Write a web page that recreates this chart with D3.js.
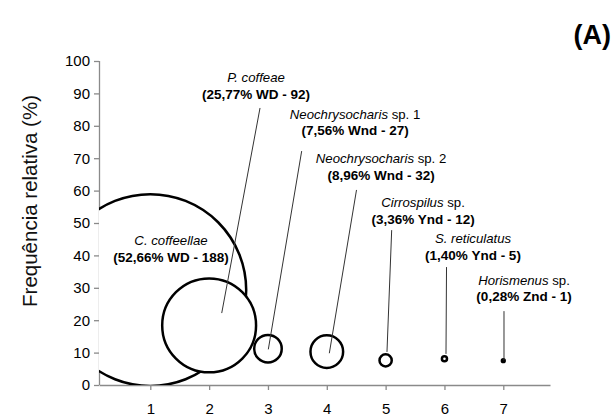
<!DOCTYPE html>
<html>
<head>
<meta charset="utf-8">
<script src="https://cdn.jsdelivr.net/npm/d3@7"></script>
<style>
  body { margin: 0; background: #fff; }
  svg { display: block; }
  text { font-family: Arial, "Liberation Sans", sans-serif; }
</style>
</head>
<body>
<div id="chart"></div>
<script>
// species (bubble order along x)
var species = [
  { it: "C. coffeellae", rest: "" },
  { it: "P. coffeae", rest: "" },
  { it: "Neochrysocharis", rest: " sp. 1" },
  { it: "Neochrysocharis", rest: " sp. 2" },
  { it: "Cirrospilus", rest: " sp." },
  { it: "S. reticulatus", rest: "" },
  { it: "Horismenus", rest: " sp." }
];
var xValues = [1, 2, 3, 4, 5, 6, 7];
var yValues = [29.3, 18.4, 11.2, 10.3, 7.6, 8.1, 7.5];   // frequência relativa (%)
var counts = [188, 92, 27, 32, 12, 5, 1];                 // bubble size
var percents = ["52,66", "25,77", "7,56", "8,96", "3,36", "1,40", "0,28"];
var codes = ["WD", "WD", "Wnd", "Wnd", "Ynd", "Ynd", "Znd"];
var yTicks = [0, 10, 20, 30, 40, 50, 60, 70, 80, 90, 100];
var xTicks = [1, 2, 3, 4, 5, 6, 7];

// label anchors (data units): centre x, baseline of first line
var labelX = [1.352, 2.797, 4.480, 4.922, 5.636, 6.485, 7.352];
var labelY = [43.2, 93.5, 82.1, 68.5, 54.9, 43.8, 30.9];
// leader lines (data units), null = no line
var leaders = [
  null,
  [2.865, 85.5, 2.214, 22.2],
  [3.573, 72.2, 3.006, 11.0],
  [4.505, 60.2, 4.043, 9.8],
  [5.103, 47.8, 5.023, 10.2],
  [6.035, 36.4, 6.026, 9.6],
  [7.012, 22.8, 7.012, 7.7]
];

var w = 613, h = 418;
var pLeft = 99, pRight = 550, pTop = 61, pBottom = 385;
var font = "Arial, 'Liberation Sans', sans-serif";

var svg = d3.select("#chart").append("svg")
  .attr("width", w)
  .attr("height", h);

var xScale = d3.scaleLinear().domain([0.128, 7.794]).range([pLeft, pRight]);
var yScale = d3.scaleLinear().domain([0, 100]).range([pBottom, pTop]);
var rScale = d3.scaleLinear().domain([0, 188]).range([0, 95.9]);

// clip bubbles to plot area
svg.append("clipPath").attr("id", "plot")
  .append("rect")
  .attr("x", pLeft).attr("y", pTop)
  .attr("width", pRight - pLeft).attr("height", pBottom - pTop);

// y axis
var yAxis = d3.axisLeft(yScale).tickValues(yTicks).tickSize(5).tickPadding(4);
var yBar = svg.append("g")
  .attr("transform", "translate(" + pLeft + ",0)")
  .call(yAxis);

// x axis
var xAxis = d3.axisBottom(xScale).tickValues(xTicks).tickSize(5).tickPadding(13).tickSizeOuter(0);
var xBar = svg.append("g")
  .attr("transform", "translate(0," + pBottom + ")")
  .call(xAxis);

[yBar, xBar].forEach(function(g) {
  g.attr("font-family", font);
  g.select(".domain").attr("stroke", "#8a8a8a").attr("stroke-width", 1.3);
  g.selectAll(".tick line").attr("stroke", "#8a8a8a").attr("stroke-width", 1.3);
  g.selectAll(".tick text")
    .attr("fill", "#000")
    .style("font-size", "15px")
    .style("font-family", font);
});
yBar.select(".domain").attr("d", "M0.5," + pTop + "V" + pBottom);

// bubbles
var data = xValues.map(function(x, i) {
  return { x: x, y: yValues[i], n: counts[i] };
});
svg.append("g")
  .attr("clip-path", "url(#plot)")
  .selectAll("circle")
  .data(data)
  .enter()
  .append("circle")
  .attr("cx", function(d) { return xScale(d.x); })
  .attr("cy", function(d) { return yScale(d.y); })
  .attr("r", function(d) { return Math.max(rScale(d.n), 1.4); })
  .attr("fill", "#fff")
  .attr("stroke", "#000")
  .attr("stroke-width", 2.5);

// leader lines
svg.append("g")
  .selectAll("line")
  .data(leaders.filter(function(d) { return d; }))
  .enter()
  .append("line")
  .attr("x1", function(d) { return xScale(d[0]); })
  .attr("y1", function(d) { return yScale(d[1]); })
  .attr("x2", function(d) { return xScale(d[2]); })
  .attr("y2", function(d) { return yScale(d[3]); })
  .attr("stroke", "#333")
  .attr("stroke-width", 1);

// labels
var labels = svg.append("g")
  .selectAll("g")
  .data(species)
  .enter()
  .append("g")
  .attr("transform", function(d, i) {
    return "translate(" + xScale(labelX[i]) + "," + yScale(labelY[i]) + ")";
  });

var l1 = labels.append("text")
  .attr("text-anchor", "middle")
  .style("font-size", "13.2px");
l1.append("tspan").style("font-style", "italic").text(function(d) { return d.it; });
l1.append("tspan").text(function(d) { return d.rest; });

labels.append("text")
  .attr("text-anchor", "middle")
  .attr("y", 16.5)
  .style("font-size", "13.5px")
  .style("font-weight", "bold")
  .text(function(d, i) { return "(" + percents[i] + "% " + codes[i] + " - " + counts[i] + ")"; });

// y title
svg.append("text")
  .attr("transform", "translate(37,201) rotate(-90)")
  .attr("text-anchor", "middle")
  .style("font-size", "20.5px")
  .attr("fill", "#111")
  .text("Frequência relativa (%)");

// panel letter
svg.append("text")
  .attr("x", 611)
  .attr("y", 44)
  .attr("text-anchor", "end")
  .style("font-size", "27px")
  .style("font-weight", "bold")
  .text("(A)");
</script>
</body>
</html>
